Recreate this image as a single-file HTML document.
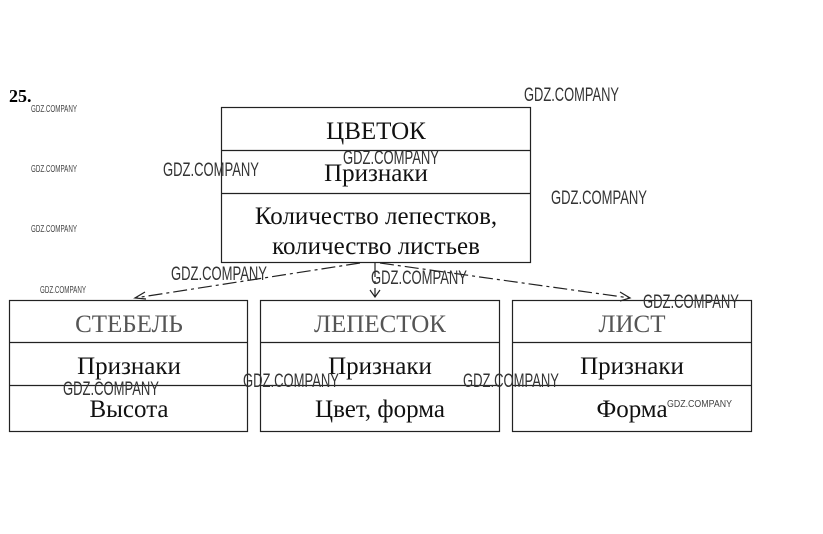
<!DOCTYPE html>
<html><head><meta charset="utf-8"><style>
body{margin:0;background:#fff}
svg{display:block}
.t{font-family:"Liberation Serif",serif;font-size:25px;fill:#111;text-anchor:middle}
.w{font-family:"Liberation Sans",sans-serif;fill:#333;font-size:19px}
.ws{font-family:"Liberation Sans",sans-serif;fill:#444;font-size:10px}
</style></head><body>
<svg width="823" height="534" xmlns="http://www.w3.org/2000/svg">
<rect width="823" height="534" fill="#fff"/>
<g stroke="#222" stroke-width="1.2" fill="none">
<rect x="221.5" y="107.5" width="309" height="155"/>
<line x1="221" y1="150.5" x2="530" y2="150.5"/>
<line x1="221" y1="193.5" x2="530" y2="193.5"/>
<rect x="9.5" y="300.5" width="238" height="131"/>
<line x1="9" y1="342.5" x2="247" y2="342.5"/>
<line x1="9" y1="385.5" x2="247" y2="385.5"/>
<rect x="260.5" y="300.5" width="239" height="131"/>
<line x1="260" y1="342.5" x2="499" y2="342.5"/>
<line x1="260" y1="385.5" x2="499" y2="385.5"/>
<rect x="512.5" y="300.5" width="239" height="131"/>
<line x1="512" y1="342.5" x2="751" y2="342.5"/>
<line x1="512" y1="385.5" x2="751" y2="385.5"/>
<g stroke-dasharray="14 4 3 4">
<line x1="360" y1="263" x2="135" y2="298"/>
<line x1="375" y1="263" x2="375" y2="296"/>
<line x1="380" y1="263" x2="630" y2="298"/>
</g>
<path d="M145 292 L135 298 L146 299"/>
<path d="M370 290 L375 297 L380 290"/>
<path d="M620 292 L630 298 L620 301"/>
</g>
<text x="9" y="102" style="font-family:'Liberation Serif',serif;font-weight:bold;font-size:18px">25.</text>
<text class="t" x="376" y="139">ЦВЕТОК</text>
<text class="t" x="376" y="181">Признаки</text>
<text class="t" x="376" y="224">Количество лепестков,</text>
<text class="t" x="376" y="254" fill="#555">количество листьев</text>
<text class="t" x="129" y="332" style="fill:#555">СТЕБЕЛЬ</text>
<text class="t" x="129" y="374">Признаки</text>
<text class="t" x="129" y="417">Высота</text>
<text class="t" x="380" y="332" style="fill:#555">ЛЕПЕСТОК</text>
<text class="t" x="380" y="374">Признаки</text>
<text class="t" x="380" y="417">Цвет, форма</text>
<text class="t" x="632" y="332" style="fill:#555">ЛИСТ</text>
<text class="t" x="632" y="374">Признаки</text>
<text class="t" x="632" y="417">Форма</text>
<g class="w">
<text x="524" y="101" textLength="95" lengthAdjust="spacingAndGlyphs">GDZ.COMPANY</text>
<text x="163" y="176" textLength="96" lengthAdjust="spacingAndGlyphs">GDZ.COMPANY</text>
<text x="343" y="164" textLength="96" lengthAdjust="spacingAndGlyphs">GDZ.COMPANY</text>
<text x="551" y="204" textLength="96" lengthAdjust="spacingAndGlyphs">GDZ.COMPANY</text>
<text x="171" y="280" textLength="96" lengthAdjust="spacingAndGlyphs">GDZ.COMPANY</text>
<text x="371" y="284" textLength="96" lengthAdjust="spacingAndGlyphs">GDZ.COMPANY</text>
<text x="643" y="308" textLength="96" lengthAdjust="spacingAndGlyphs">GDZ.COMPANY</text>
<text x="63" y="395" textLength="96" lengthAdjust="spacingAndGlyphs">GDZ.COMPANY</text>
<text x="243" y="387" textLength="96" lengthAdjust="spacingAndGlyphs">GDZ.COMPANY</text>
<text x="463" y="387" textLength="96" lengthAdjust="spacingAndGlyphs">GDZ.COMPANY</text>
</g>
<g class="ws">
<text x="31" y="112" textLength="46" lengthAdjust="spacingAndGlyphs">GDZ.COMPANY</text>
<text x="31" y="172" textLength="46" lengthAdjust="spacingAndGlyphs">GDZ.COMPANY</text>
<text x="31" y="232" textLength="46" lengthAdjust="spacingAndGlyphs">GDZ.COMPANY</text>
<text x="40" y="293" textLength="46" lengthAdjust="spacingAndGlyphs">GDZ.COMPANY</text>
<text x="667" y="407" textLength="65" lengthAdjust="spacingAndGlyphs">GDZ.COMPANY</text>
</g>
</svg>
</body></html>
